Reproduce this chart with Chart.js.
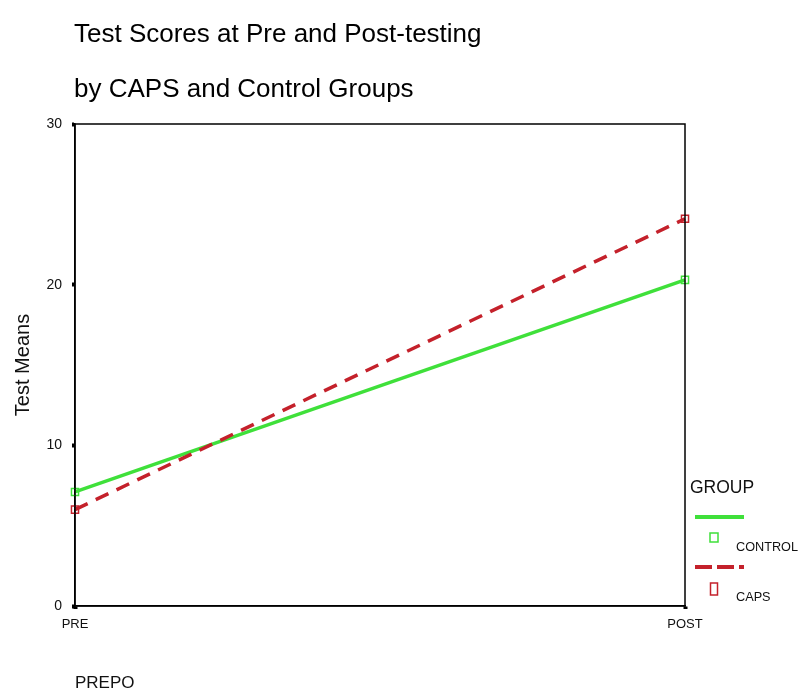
<!DOCTYPE html>
<html><head><meta charset="utf-8">
<script src="https://cdn.jsdelivr.net/npm/chart.js@4.4.0/dist/chart.umd.min.js"></script>
<style>html,body{margin:0;padding:0;background:#fff}#wrap{width:801px;height:694px}</style>
</head><body><div id="wrap"><canvas id="c" width="801" height="694"></canvas></div>
<script>
const categories = ["PRE", "POST"];
const controlMeans = [7.1, 20.3];
const capsMeans = [6.0, 24.1];
const yTicks = [0, 10, 20, 30];
const titleLines = ["Test Scores at Pre and Post-testing", "by CAPS and Control Groups"];
const seriesNames = ["CONTROL", "CAPS"];
const legendTitle = "GROUP";

const GREEN = "#3fe03a";
const RED = "#c4212b";
const FONT = "'Liberation Sans', Arial, sans-serif";

const decor = {
  id: 'decor',
  afterDraw(chart) {
    const ctx = chart.ctx, a = chart.chartArea;
    ctx.save();
    ctx.strokeStyle = '#000'; ctx.lineWidth = 1.5;
    ctx.strokeRect(a.left, a.top, a.right - a.left, a.bottom - a.top);
    ctx.fillStyle = '#000';
    ctx.font = "26px " + FONT;
    ctx.textAlign = 'left'; ctx.textBaseline = 'middle';
    ctx.fillText(titleLines[0], 74, 35);
    ctx.fillText(titleLines[1], 74, 90);
    ctx.font = "17.5px " + FONT;
    ctx.fillStyle = '#111';
    ctx.fillText(legendTitle, 690, 488);
    ctx.lineWidth = 4;
    ctx.strokeStyle = GREEN; ctx.setLineDash([]);
    ctx.beginPath(); ctx.moveTo(695, 517); ctx.lineTo(744, 517); ctx.stroke();
    ctx.lineWidth = 1.5;
    ctx.strokeRect(710, 533, 8, 9);
    ctx.font = "12.7px " + FONT; ctx.fillStyle = '#111';
    ctx.fillText(seriesNames[0], 736, 547);
    ctx.strokeStyle = RED; ctx.lineWidth = 4; ctx.setLineDash([17, 5]);
    ctx.beginPath(); ctx.moveTo(695, 567); ctx.lineTo(744, 567); ctx.stroke();
    ctx.setLineDash([]); ctx.lineWidth = 1.5;
    ctx.strokeRect(710.5, 583, 7, 12);
    ctx.fillText(seriesNames[1], 736, 597);
    ctx.restore();
  }
};

new Chart(document.getElementById('c'), {
  type: 'line',
  data: {
    labels: categories,
    datasets: [
      { label: seriesNames[1], data: capsMeans, borderColor: RED, borderWidth: 3.5, borderDash: [14, 9],
        pointStyle: 'rect', pointRadius: 5, pointBorderWidth: 1.5, pointBorderColor: RED, pointBackgroundColor: 'rgba(0,0,0,0)', tension: 0 },
      { label: seriesNames[0], data: controlMeans, borderColor: GREEN, borderWidth: 3.5,
        pointStyle: 'rect', pointRadius: 5, pointBorderWidth: 1.5, pointBorderColor: GREEN, pointBackgroundColor: 'rgba(0,0,0,0)', tension: 0 }
    ]
  },
  options: {
    responsive: false, animation: false, devicePixelRatio: 1,
    layout: { padding: { top: 124, right: 116, left: 0, bottom: 0 } },
    plugins: { legend: { display: false }, tooltip: { enabled: false }, title: { display: false } },
    scales: {
      x: {
        offset: false,
        grid: { display: true, drawOnChartArea: false, tickLength: 3, tickWidth: 4, color: '#000' },
        border: { display: true, color: '#000', width: 1.5 },
        ticks: { color: '#111', font: { family: FONT, size: 13 }, padding: 8, maxRotation: 0 },
        title: { display: true, text: 'PREPO', align: 'start', color: '#111', font: { family: FONT, size: 17 }, padding: { top: 4, bottom: 0 } },
        afterFit(s) { s.height = 88; }
      },
      y: {
        min: 0, max: 30,
        afterBuildTicks(s) { s.ticks = yTicks.map(v => ({ value: v })); },
        grid: { display: true, drawOnChartArea: false, tickLength: 3, tickWidth: 4, color: '#000' },
        border: { display: true, color: '#000', width: 1.5 },
        ticks: { color: '#111', font: { family: FONT, size: 14 }, padding: 10 },
        title: { display: true, text: 'Test Means', color: '#111', font: { family: FONT, size: 20 }, padding: { top: 11, bottom: 0 } },
        afterFit(s) { s.width = 75; }
      }
    }
  },
  plugins: [decor]
});
</script></body></html>
